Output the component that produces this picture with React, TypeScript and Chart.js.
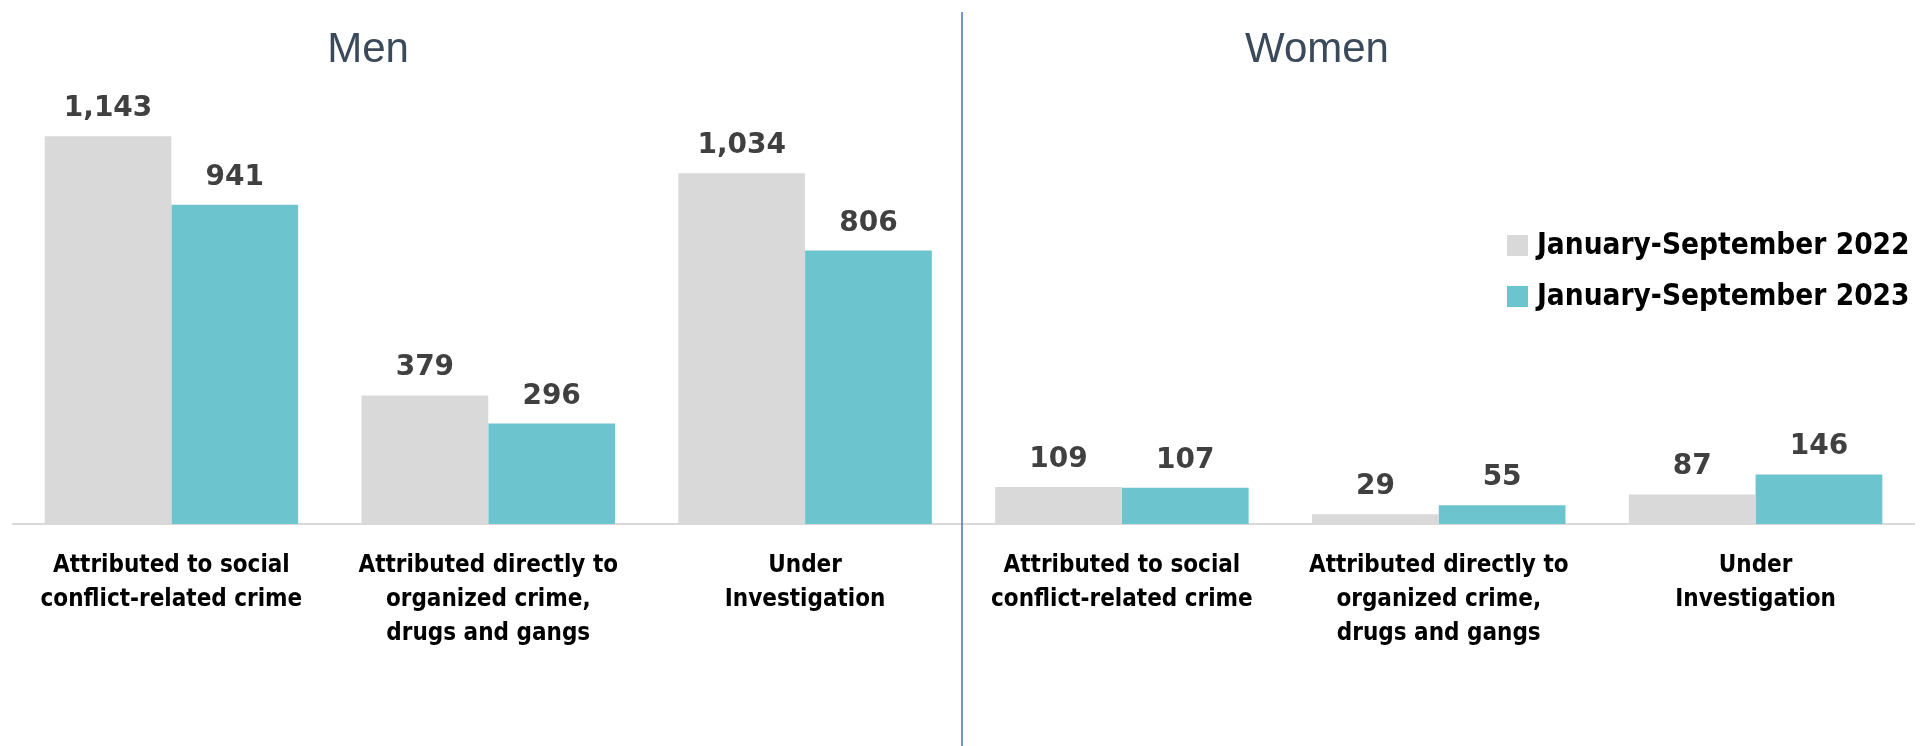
import React, { useEffect, useRef } from "react";
import { Chart, registerables } from "chart.js";

Chart.register(...registerables);

const categories: string[][] = [
  ["Attributed to social", "conflict-related crime"],
  ["Attributed directly to", "organized crime,", "drugs and gangs"],
  ["Under", "Investigation"],
  ["Attributed to social", "conflict-related crime"],
  ["Attributed directly to", "organized crime,", "drugs and gangs"],
  ["Under", "Investigation"],
];
const groupTitles = ["Men", "Women"];
const seriesNames = ["January-September 2022", "January-September 2023"];
const values2022 = [1143, 379, 1034, 109, 29, 87];
const values2023 = [941, 296, 806, 107, 55, 146];
const seriesColors = ["#D9D9D9", "#6CC4CF"];

const NARROW = '"Liberation Sans Narrow", "DejaVu Sans Condensed", "Liberation Sans", sans-serif';

const overlayPlugin = {
  id: "overlay",
  afterDatasetsDraw(chart: any) {
    const ctx = chart.ctx;
    ctx.save();
    ctx.font = 'bold 28px "DejaVu Sans", sans-serif';
    ctx.fillStyle = "#404040";
    ctx.textAlign = "center";
    ctx.textBaseline = "alphabetic";
    chart.data.datasets.forEach((ds: any, di: number) => {
      const meta = chart.getDatasetMeta(di);
      meta.data.forEach((bar: any, i: number) => {
        const v = ds.data[i] as number;
        ctx.fillText(v.toLocaleString("en-US"), bar.x, bar.y - 20);
      });
    });
    ctx.restore();
  },
  afterDraw(chart: any) {
    const ctx = chart.ctx;
    ctx.save();
    // divider
    ctx.strokeStyle = "#4472C4";
    ctx.lineWidth = 1.5;
    ctx.beginPath();
    ctx.moveTo(962, 12);
    ctx.lineTo(962, 746);
    ctx.stroke();
    // group titles
    ctx.font = '42px "Liberation Sans", Arial, sans-serif';
    ctx.fillStyle = "#3A4A5A";
    ctx.textAlign = "center";
    ctx.textBaseline = "alphabetic";
    const titleX = [368, 1317];
    groupTitles.forEach((t, i) => ctx.fillText(t, titleX[i], 62));
    // legend
    ctx.font = "bold 29.5px " + NARROW;
    ctx.textAlign = "left";
    ctx.textBaseline = "middle";
    seriesNames.forEach((name, i) => {
      const y = 235 + i * 51;
      ctx.fillStyle = seriesColors[i];
      ctx.fillRect(1507, y, 21, 21);
      ctx.fillStyle = "#000000";
      ctx.fillText(name, 1537, y + 11);
    });
    ctx.restore();
  },
};

export default function App() {
  const ref = useRef<HTMLCanvasElement>(null);
  useEffect(() => {
    if (!ref.current) return;
    const chart = new Chart(ref.current, {
      type: "bar",
      data: {
        labels: categories,
        datasets: [
          { label: seriesNames[0], data: values2022, backgroundColor: seriesColors[0] },
          { label: seriesNames[1], data: values2023, backgroundColor: seriesColors[1] },
        ],
      },
      options: {
        responsive: false,
        animation: false,
        devicePixelRatio: 1,
        layout: { padding: { top: 49, left: 13, right: 10, bottom: 0 } },
        datasets: { bar: { categoryPercentage: 0.8, barPercentage: 1.0 } },
        plugins: { legend: { display: false }, tooltip: { enabled: false } },
        scales: {
          x: {
            grid: { display: false, drawTicks: false },
            border: { display: true, color: "#D9D9D9", width: 2 },
            ticks: {
              color: "#000000",
              font: { family: NARROW, size: 24, weight: "bold", lineHeight: 1.42 },
              padding: 25,
              maxRotation: 0,
              autoSkip: false,
            },
            afterFit: (scale: any) => {
              scale.height = 222;
            },
          },
          y: { display: false, min: 0, max: 1400 },
        },
      },
      plugins: [overlayPlugin],
    } as any);
    return () => chart.destroy();
  }, []);
  return (
    <canvas
      ref={ref}
      width={1924}
      height={746}
      style={{ position: "fixed", left: 0, top: 0, background: "#FFFFFF" }}
    />
  );
}
